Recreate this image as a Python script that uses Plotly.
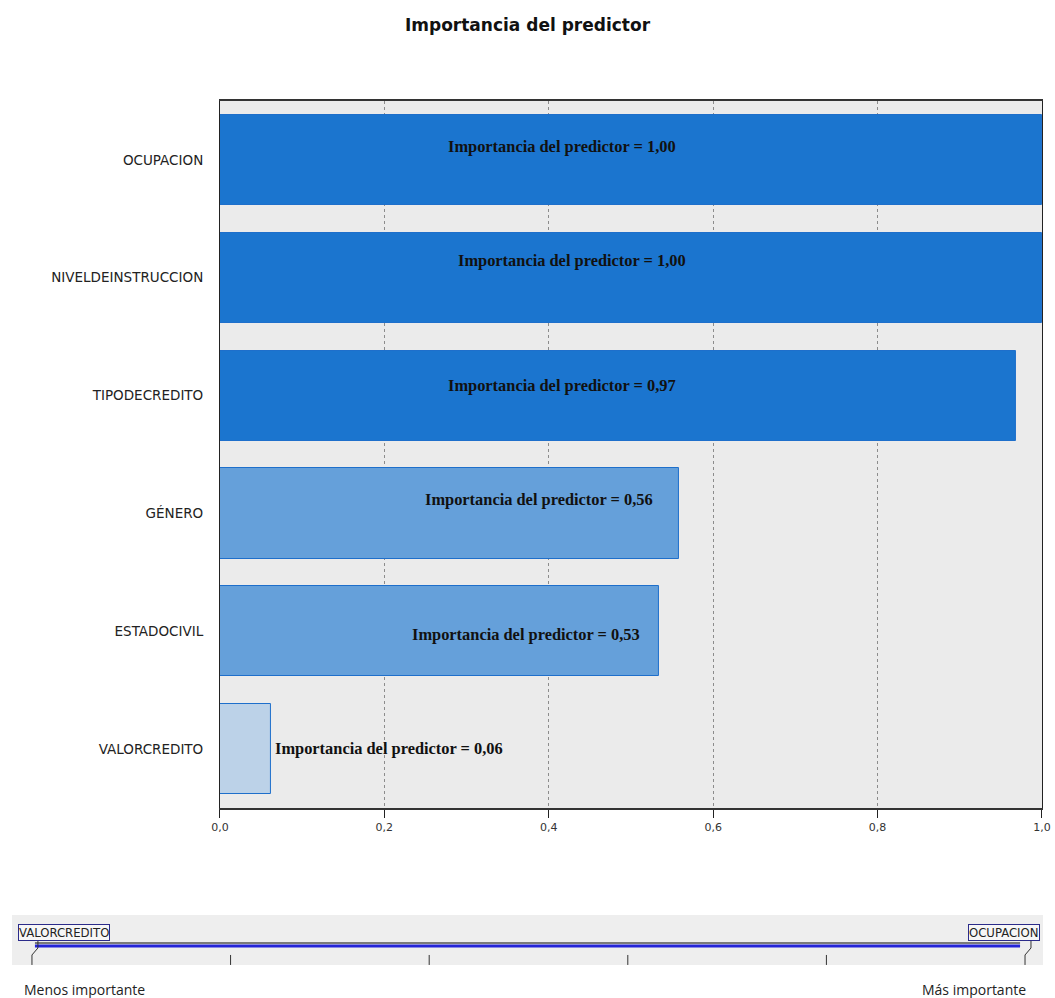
import plotly.graph_objects as go

# ---- data ----
predictors = ["OCUPACION", "NIVELDEINSTRUCCION", "TIPODECREDITO", "GÉNERO", "ESTADOCIVIL", "VALORCREDITO"]
importance = [1.00, 1.00, 0.968, 0.558, 0.534, 0.062]
x_ticks = [0.0, 0.2, 0.4, 0.6, 0.8, 1.0]
x_tick_labels = ["0,0", "0,2", "0,4", "0,6", "0,8", "1,0"]
least_label = "VALORCREDITO"
most_label = "OCUPACION"

# ---- styles / label placement ----
bar_colors = ["#1B75CF", "#1B75CF", "#1B75CF", "#65A0DA", "#65A0DA", "#BCD2E8"]
label_x = [0.416, 0.428, 0.4155, 0.3887, 0.372, 0.206]
label_yshift = [13, 17, 10, 13.5, -3, 1]

fig = go.Figure()
fig.add_trace(go.Bar(
    x=importance, y=predictors, orientation="h",
    marker=dict(color=bar_colors, line=dict(color="#1E6FCB", width=1)),
    width=0.765, hoverinfo="skip", xaxis="x", yaxis="y",
))

annotations = []
for p, v, lx, ys in zip(predictors, importance, label_x, label_yshift):
    annotations.append(dict(
        x=lx, y=p, xref="x", yref="y", yshift=ys, showarrow=False,
        text="<b>Importancia del predictor = " + f"{v:.2f}".replace(".", ",") + "</b>",
        font=dict(family="Liberation Serif, DejaVu Serif, serif", size=16.4, color="#111111"),
        xanchor="center", yanchor="middle",
    ))

narrow = "Liberation Sans Narrow, Arial Narrow, DejaVu Sans Condensed, sans-serif"
annotations.append(dict(x=-0.014, y=0.66, xref="x2", yref="y2", text=least_label,
                        showarrow=False, xanchor="left", yanchor="middle",
                        font=dict(family=narrow, size=13, color="#222222"),
                        bordercolor="#2B2B8A", borderwidth=1, borderpad=0, bgcolor="#F6F6F6"))
annotations.append(dict(x=1.015, y=0.66, xref="x2", yref="y2", text=most_label,
                        showarrow=False, xanchor="right", yanchor="middle",
                        font=dict(family=narrow, size=13, color="#222222"),
                        bordercolor="#2B2B8A", borderwidth=1, borderpad=0, bgcolor="#F6F6F6"))
annotations.append(dict(x=0.01, y=-0.025, xref="paper", yref="paper", text="Menos importante",
                        showarrow=False, xanchor="left", yanchor="middle",
                        font=dict(family="Open Sans, DejaVu Sans, sans-serif", size=14, color="#222222")))
annotations.append(dict(x=0.985, y=-0.025, xref="paper", yref="paper", text="Más importante",
                        showarrow=False, xanchor="right", yanchor="middle",
                        font=dict(family="Open Sans, DejaVu Sans, sans-serif", size=14, color="#222222")))

shapes = []
shapes.append(dict(type="rect", xref="x2 domain", yref="y2 domain", x0=0, x1=1, y0=0, y1=1,
                   fillcolor="#EEEEEE", line=dict(width=0), layer="below"))
shapes.append(dict(type="line", xref="x2", yref="y2", x0=0.003, x1=0.995, y0=0.44, y1=0.44,
                   line=dict(color="#7A7A7A", width=2)))
shapes.append(dict(type="line", xref="x2", yref="y2", x0=0.003, x1=0.995, y0=0.38, y1=0.38,
                   line=dict(color="#2424D8", width=3)))
for t in [0, 0.2, 0.4, 0.6, 0.8, 1.0]:
    shapes.append(dict(type="line", xref="x2", yref="y2", x0=t, x1=t, y0=0.0, y1=0.2,
                       line=dict(color="#333333", width=1)))
shapes.append(dict(type="path", xref="x2", yref="y2", path="M 0,0.2 L 0.006,0.34 L 0.006,0.5",
                   line=dict(color="#333333", width=1)))
shapes.append(dict(type="path", xref="x2", yref="y2", path="M 1,0.2 L 1.006,0.34 L 1.006,0.5",
                   line=dict(color="#333333", width=1)))

fig.update_layout(
    width=1055, height=998, autosize=False,
    margin=dict(l=12, r=12, t=101, b=30, autoexpand=False),
    paper_bgcolor="white",
    plot_bgcolor="#EBEBEB",
    showlegend=False,
    title=dict(text="<b>Importancia del predictor</b>", x=0.5, xanchor="center", y=0.975, yanchor="middle",
               font=dict(family="DejaVu Sans, sans-serif", size=17, color="#111111")),
    xaxis=dict(domain=[0.2017, 0.999], range=[0, 1], tickvals=x_ticks, ticktext=x_tick_labels,
               showgrid=True, gridcolor="#8C8C8C", griddash="3px,3px", gridwidth=1,
               showline=True, linecolor="#333333", linewidth=1.5, mirror=True,
               ticks="outside", ticklen=8, tickcolor="#222222",
               tickfont=dict(family="DejaVu Sans, sans-serif", size=11, color="#333333"),
               zeroline=False, fixedrange=True, anchor="y", automargin=False,
               ticklabeloverflow="allow"),
    yaxis=dict(domain=[0.1845, 1.0], categoryorder="array", categoryarray=predictors, autorange="reversed",
               showline=True, linecolor="#222222", linewidth=1, mirror=True, showgrid=False,
               ticks="outside", ticklen=13, tickcolor="rgba(0,0,0,0)",
               tickfont=dict(family="DejaVu Sans, sans-serif", size=13.5, color="#222222"),
               fixedrange=True, anchor="x", automargin=False),
    xaxis2=dict(domain=[0, 1], range=[-0.0201, 1.0181], visible=False, anchor="y2", fixedrange=True),
    yaxis2=dict(domain=[0.0035, 0.0611], range=[0, 1], visible=False, anchor="x2", fixedrange=True),
    annotations=annotations,
    shapes=shapes,
    bargap=0,
)

fig.write_html("out.html",
               config={"responsive": False, "displayModeBar": False},
               post_script="document.body.style.margin='0px';document.documentElement.style.overflow='hidden';")
